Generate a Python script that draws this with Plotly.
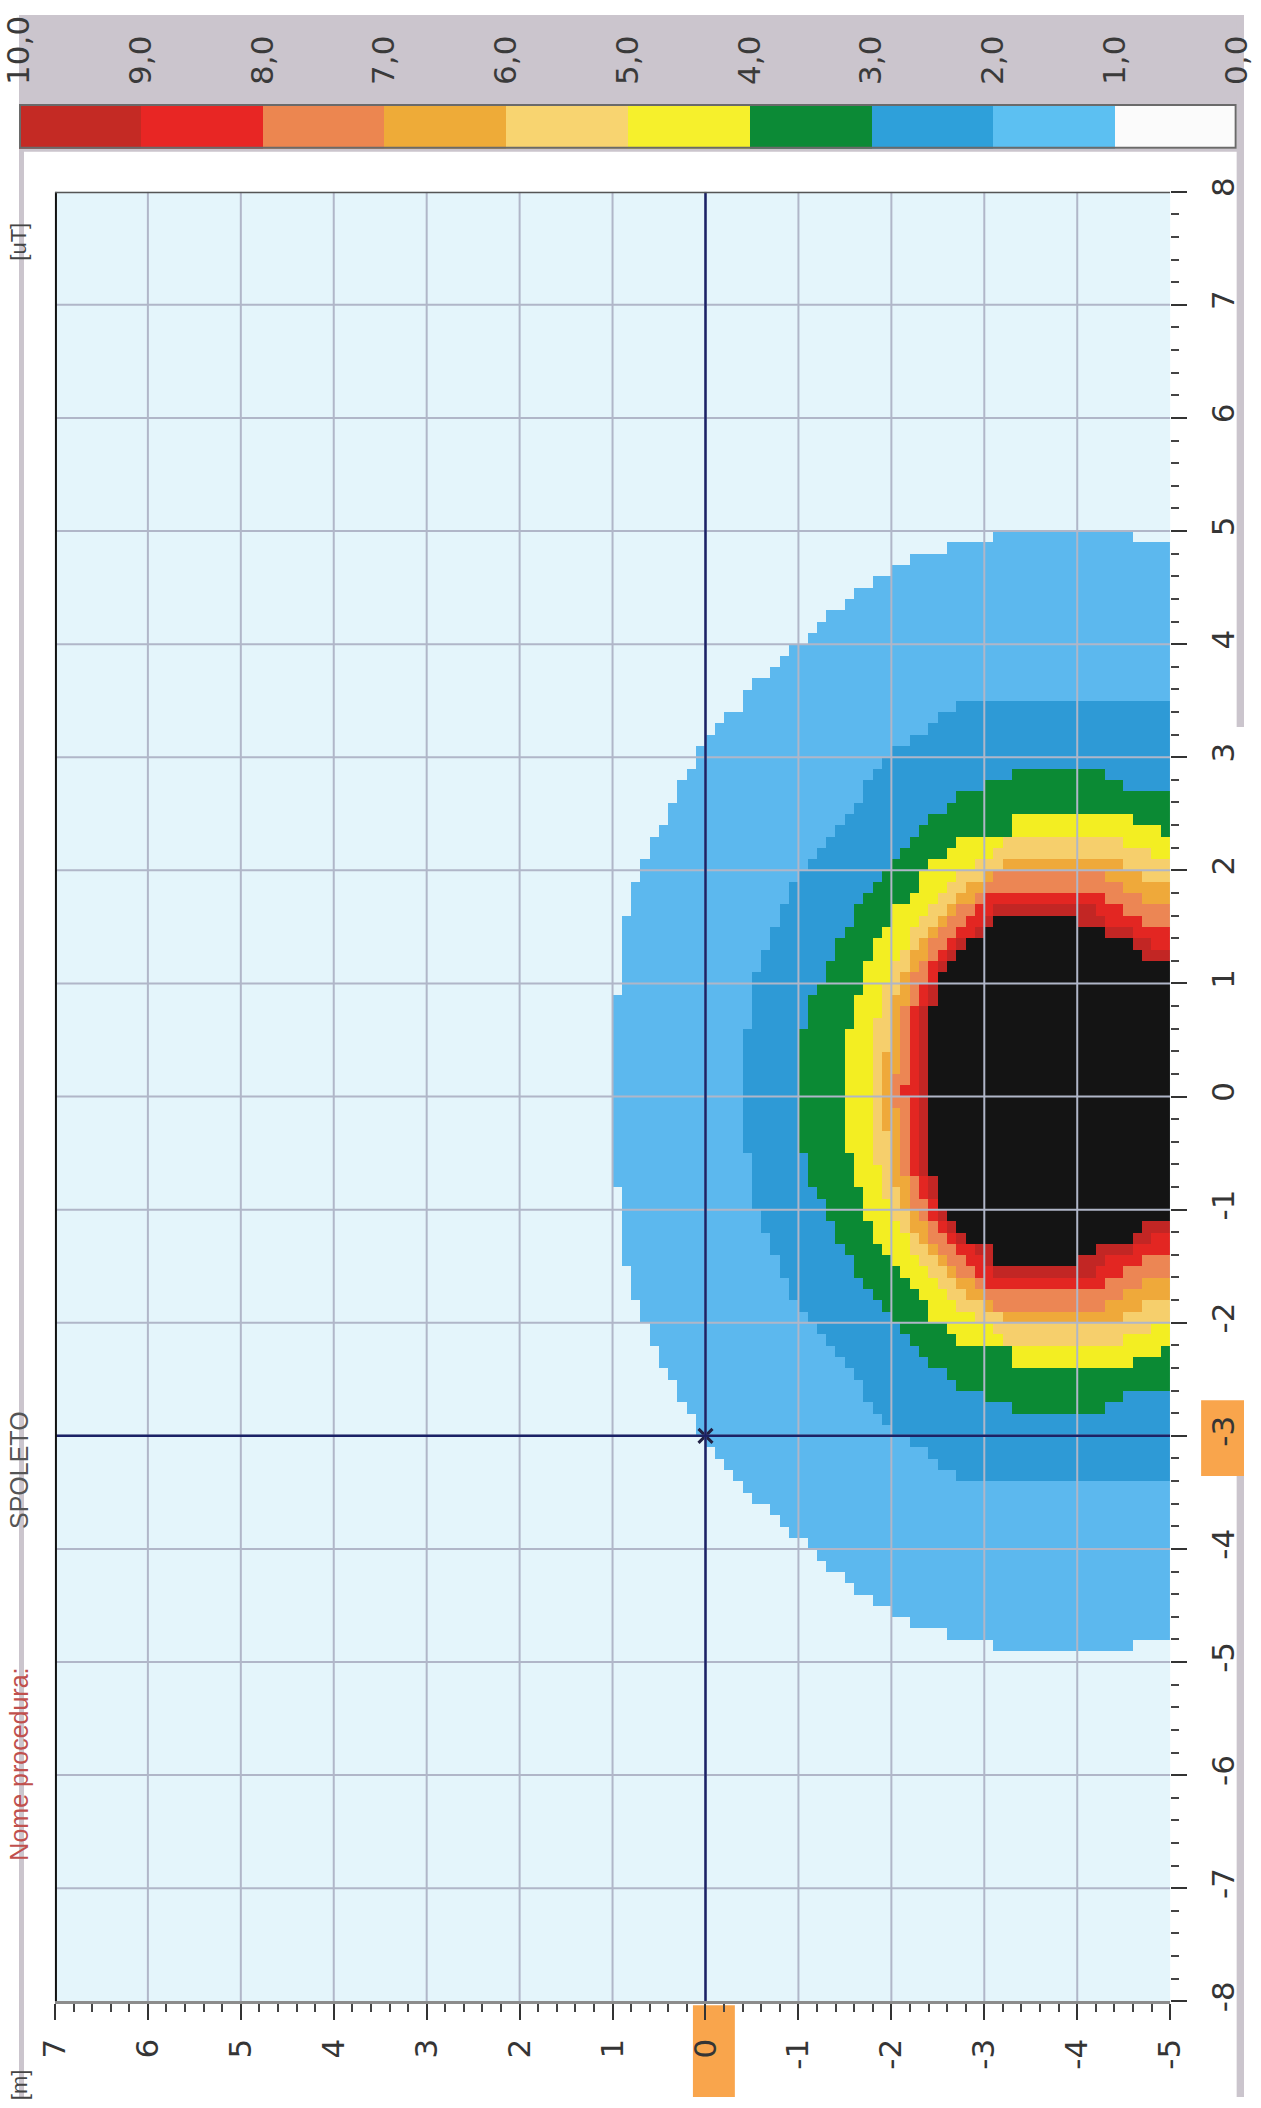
import numpy as np
import plotly.graph_objects as go

W, H = 1261, 2108

# ---- axis ticks -------------------------------------------------------------
pos_ticks = list(range(-5, 8))          # horizontal axis (position across, m)
dist_ticks = list(range(-8, 9))         # vertical axis (position along, m)
scale_ticks = list(range(0, 11))        # field scale, uT
scale_labels = [f"{v},0" for v in scale_ticks]

# ---- field bands: outline of each band as (position, half-width) pairs ------
# position runs from the tip of the band down to the -5 edge
band1_pos = [1.02, 1.0, 0.95, 0.9, 0.8, 0.6, 0.45, 0.3, 0.15, 0.0, -0.3, -0.6, -1.0, -1.4, -1.8, -2.2, -2.6, -3.0, -3.2, -4.6, -4.65, -5.0]
band1_hw = [0.0, 0.8, 0.85, 1.3, 1.7, 2.15, 2.4, 2.65, 2.85, 3.1, 3.35, 3.65, 3.95, 4.25, 4.5, 4.7, 4.8, 4.88, 4.95, 4.95, 4.85, 4.85]

band2_pos = [-0.42, -0.45, -0.5, -0.55, -0.65, -0.8, -1.0, -1.2, -1.45, -1.7, -2.0, -2.3, -2.6, -2.95, -5.0]
band2_hw = [0.0, 0.55, 0.6, 1.0, 1.25, 1.55, 1.9, 2.1, 2.35, 2.65, 2.97, 3.15, 3.35, 3.47, 3.47]

band3_pos = [-1.0, -1.05, -1.1, -1.15, -1.28, -1.45, -1.65, -1.85, -2.1, -2.4, -2.75, -3.1, -3.35, -4.25, -4.45, -4.65, -5.0]
band3_hw = [0.0, 0.5, 0.55, 0.8, 1.05, 1.35, 1.6, 1.85, 2.1, 2.38, 2.6, 2.72, 2.82, 2.82, 2.75, 2.63, 2.63]

band4_pos = [-1.48, -1.52, -1.6, -1.72, -1.85, -2.0, -2.2, -2.45, -2.75, -3.3, -3.35, -4.5, -4.8, -5.0]
band4_hw = [0.0, 0.4, 0.75, 1.05, 1.3, 1.55, 1.75, 2.0, 2.2, 2.28, 2.42, 2.42, 2.32, 2.25]

band5_pos = [-1.78, -1.82, -1.92, -2.05, -2.25, -2.5, -2.8, -3.2, -3.3, -4.4, -4.7, -5.0]
band5_hw = [0.0, 0.5, 0.85, 1.15, 1.45, 1.7, 1.95, 2.15, 2.25, 2.25, 2.12, 2.02]

band6_pos = [-1.92, -1.96, -2.06, -2.2, -2.4, -2.65, -2.95, -3.2, -3.25, -4.3, -4.6, -5.0]
band6_hw = [0.0, 0.5, 0.85, 1.15, 1.42, 1.66, 1.88, 2.0, 2.07, 2.07, 1.95, 1.8]

band7_pos = [-2.04, -2.08, -2.18, -2.32, -2.52, -2.75, -3.0, -3.15, -4.2, -4.5, -5.0]
band7_hw = [0.0, 0.55, 0.88, 1.15, 1.4, 1.6, 1.8, 1.93, 1.93, 1.78, 1.6]

band8_pos = [-2.15, -2.19, -2.29, -2.45, -2.65, -2.9, -3.1, -4.1, -4.4, -4.7, -5.0]
band8_hw = [0.0, 0.55, 0.9, 1.15, 1.38, 1.58, 1.78, 1.78, 1.65, 1.5, 1.4]

band9_pos = [-2.26, -2.3, -2.4, -2.55, -2.75, -3.0, -3.1, -4.05, -4.3, -4.6, -5.0]
band9_hw = [0.0, 0.55, 0.9, 1.15, 1.33, 1.5, 1.66, 1.66, 1.52, 1.38, 1.25]

band10_pos = [-2.36, -2.4, -2.5, -2.65, -2.85, -3.05, -3.1, -4.0, -4.1, -4.5, -4.6, -4.75, -5.0]
band10_hw = [0.0, 0.55, 0.98, 1.15, 1.3, 1.4, 1.55, 1.55, 1.43, 1.35, 1.25, 1.15, 1.15]

band_axis = 0.05          # along-position of the band symmetry axis
cursor_pos, cursor_dist = 0.0, -3.0

# ---- colours ----------------------------------------------------------------
plot_colors = ["#e4f5fb", "#5cb8ee", "#2e9ad6", "#0b8a34", "#f3ee22", "#f6cf6c",
               "#efa93a", "#ec8654", "#e32622", "#c22624", "#141414"]
legend_colors = ["#fbfbfb", "#5cc0f2", "#2ea0da", "#0c8a36", "#f6f02c", "#f8d470",
                 "#eeab38", "#ec8650", "#e82624", "#c42a24"]


def discrete_scale(colors):
    n = len(colors)
    cs = []
    for i, c in enumerate(colors):
        cs.append([i / n, c])
        cs.append([(i + 1) / n, c])
    return cs


# ---- raster of the band index on a 0.1 m grid -------------------------------
dist_c = np.round(np.arange(-7.95, 8.0, 0.1), 2)
pos_c = np.round(np.arange(-4.95, 7.0, 0.1), 2)
P, D = np.meshgrid(pos_c, dist_c)
level = np.zeros_like(P)
bands = [(band1_pos, band1_hw), (band2_pos, band2_hw), (band3_pos, band3_hw),
         (band4_pos, band4_hw), (band5_pos, band5_hw), (band6_pos, band6_hw),
         (band7_pos, band7_hw), (band8_pos, band8_hw), (band9_pos, band9_hw),
         (band10_pos, band10_hw)]
for k, (bp, bw) in enumerate(bands, start=1):
    bp = np.asarray(bp)
    bw = np.asarray(bw)
    hw = np.interp(P, bp[::-1], bw[::-1])
    inside = (P <= bp[0]) & (np.abs(D - band_axis) <= hw)
    level[inside] = k

# page placement: pixel position on the page -> paper fraction
OX, SX = 17.0, 0.973
OY, SY = 13.0, 0.989


def fx(px):
    return min(max((px - OX) / SX / W, 0.0), 1.0)


def fy(py):
    return min(max(1 - (py - OY) / SY / H, 0.0), 1.0)


fig = go.Figure()

fig.add_trace(go.Heatmap(
    x=pos_c, y=dist_c, z=level, colorscale=discrete_scale(plot_colors),
    zmin=-0.5, zmax=10.5, showscale=False, hoverinfo="skip",
    xaxis="x", yaxis="y"))

legend_x = [v + 0.5 for v in scale_ticks[:-1]]
fig.add_trace(go.Heatmap(
    x=legend_x, y=[0], z=[list(range(10))], colorscale=discrete_scale(legend_colors),
    zmin=-0.5, zmax=9.5, showscale=False, hoverinfo="skip",
    xaxis="x2", yaxis="y2"))

# cursor marker
fig.add_trace(go.Scatter(x=[cursor_pos], y=[cursor_dist], mode="markers",
                         marker=dict(symbol="x-thin", size=14,
                                     line=dict(color="#222244", width=3)),
                         hoverinfo="skip", showlegend=False))

font = "DejaVu Sans, Verdana, sans-serif"
tick_font = dict(family=font, size=31, color="#353535")

shapes = []
# grey scanner margins
grey = "#cbc5cd"
shapes.append(dict(type="rect", xref="paper", yref="paper", x0=0, x1=1,
                   y0=fy(150), y1=1, fillcolor=grey, line_width=0, layer="below"))
shapes.append(dict(type="rect", xref="paper", yref="paper", x0=0, x1=fx(22),
                   y0=0, y1=1, fillcolor=grey, line_width=0, layer="below"))
shapes.append(dict(type="rect", xref="paper", yref="paper", x0=0.994, x1=1,
                   y0=fy(726), y1=1, fillcolor=grey, line_width=0, layer="below"))
shapes.append(dict(type="rect", xref="paper", yref="paper", x0=0.994, x1=1,
                   y0=0, y1=fy(1426), fillcolor=grey, line_width=0, layer="below"))
shapes.append(dict(type="rect", xref="paper", yref="paper", x0=0, x1=1,
                   y0=0, y1=fy(2102), fillcolor=grey, line_width=0, layer="below"))
# highlighter marks behind two tick labels
shapes.append(dict(type="rect", xref="paper", yref="paper", x0=fx(692), x1=fx(734),
                   y0=fy(2108), y1=fy(2006), fillcolor="#f9a54c", line_width=0,
                   layer="below"))
shapes.append(dict(type="rect", xref="paper", yref="paper", x0=fx(1201), x1=fx(1249),
                   y0=fy(1476), y1=fy(1400), fillcolor="#f9a54c", line_width=0,
                   layer="below"))

# grid drawn over the field
grid_col = "#b0b6c8"
for v in pos_ticks[1:-1]:
    shapes.append(dict(type="line", xref="x", yref="y", x0=v, x1=v,
                       y0=dist_ticks[0], y1=dist_ticks[-1],
                       line=dict(color=grid_col, width=2), layer="above"))
for v in dist_ticks[1:-1]:
    shapes.append(dict(type="line", xref="x", yref="y", x0=pos_ticks[0], x1=pos_ticks[-1],
                       y0=v, y1=v, line=dict(color=grid_col, width=2), layer="above"))
# cursor cross-hair
navy = "#1b2266"
shapes.append(dict(type="line", xref="x", yref="y", x0=cursor_pos, x1=cursor_pos,
                   y0=dist_ticks[0], y1=dist_ticks[-1], line=dict(color=navy, width=2.5),
                   layer="above"))
shapes.append(dict(type="line", xref="x", yref="y", x0=pos_ticks[-1], x1=pos_ticks[0],
                   y0=cursor_dist, y1=cursor_dist, line=dict(color=navy, width=2.5),
                   layer="above"))
# plot frame
shapes.append(dict(type="line", xref="x", yref="y", x0=pos_ticks[-1], x1=pos_ticks[-1],
                   y0=dist_ticks[0], y1=dist_ticks[-1], line=dict(color="#111111", width=4),
                   layer="above"))
shapes.append(dict(type="line", xref="x", yref="y", x0=pos_ticks[-1], x1=pos_ticks[0],
                   y0=dist_ticks[-1], y1=dist_ticks[-1], line=dict(color="#555555", width=3),
                   layer="above"))
# scale bar frame
shapes.append(dict(type="rect", xref="x2", yref="y2", x0=scale_ticks[0], x1=scale_ticks[-1],
                   y0=-0.5, y1=0.5, line=dict(color="#6a6a6a", width=4), layer="above"))

side_font = "Liberation Sans, Arial, sans-serif"
annotations = [
    dict(text="[m]", x=fx(12), y=fy(2086), xref="paper", yref="paper", showarrow=False,
         xanchor="center", yanchor="middle", textangle=-90,
         font=dict(family=side_font, size=22, color="#444444")),
    dict(text="[uT]", x=fx(12), y=fy(240), xref="paper", yref="paper", showarrow=False,
         xanchor="center", yanchor="middle", textangle=-90,
         font=dict(family=side_font, size=22, color="#444444")),
    dict(text="Nome procedura:", x=fx(12), y=fy(1765), xref="paper", yref="paper",
         showarrow=False, xanchor="center", yanchor="middle", textangle=-90,
         font=dict(family=side_font, size=25, color="#c0504d")),
    dict(text="SPOLETO", x=fx(12), y=fy(1470), xref="paper", yref="paper",
         showarrow=False, xanchor="center", yanchor="middle", textangle=-90,
         font=dict(family=side_font, size=25, color="#555555")),
]

fig.update_layout(
    width=W, height=H, margin=dict(l=0, r=0, t=0, b=0),
    paper_bgcolor="white", plot_bgcolor="#e4f5fb", showlegend=False,
    shapes=shapes, annotations=annotations,
    xaxis=dict(domain=[fx(53), fx(1170)], range=[pos_ticks[-1], pos_ticks[0]],
               anchor="y", side="bottom", tickvals=pos_ticks,
               ticktext=[str(v) for v in pos_ticks], tickangle=-90, tickfont=tick_font,
               ticks="outside", ticklen=16, tickwidth=2, tickcolor="#333333",
               ticklabelstandoff=6,
               minor=dict(ticks="outside", ticklen=8, tickwidth=2, dtick=0.2, tick0=0,
                          tickcolor="#444444", showgrid=False),
               showgrid=False, zeroline=False, showline=True, linecolor="#8c8c8c",
               linewidth=3),
    yaxis=dict(domain=[fy(2002), fy(190)], range=[dist_ticks[0], dist_ticks[-1]],
               anchor="x", side="right", tickvals=dist_ticks,
               ticktext=[str(v) for v in dist_ticks], tickangle=-90, tickfont=tick_font,
               ticks="outside", ticklen=16, tickwidth=2, tickcolor="#333333",
               ticklabelstandoff=10,
               minor=dict(ticks="outside", ticklen=8, tickwidth=2, dtick=0.2, tick0=0,
                          tickcolor="#444444", showgrid=False),
               showgrid=False, zeroline=False, showline=False),
    xaxis2=dict(domain=[fx(16), 0.994], range=[scale_ticks[-1], scale_ticks[0]],
                anchor="y2", side="top", tickvals=scale_ticks, ticktext=scale_labels,
                tickangle=-90, tickfont=dict(family=font, size=31, color="#3a3a3a"),
                ticks="", ticklabelstandoff=18, ticklabeloverflow="allow",
                showgrid=False, zeroline=False, showline=False),
    yaxis2=dict(domain=[fy(147), fy(102)], range=[-0.5, 0.5], visible=False),
)

fig.write_html("out.html")
